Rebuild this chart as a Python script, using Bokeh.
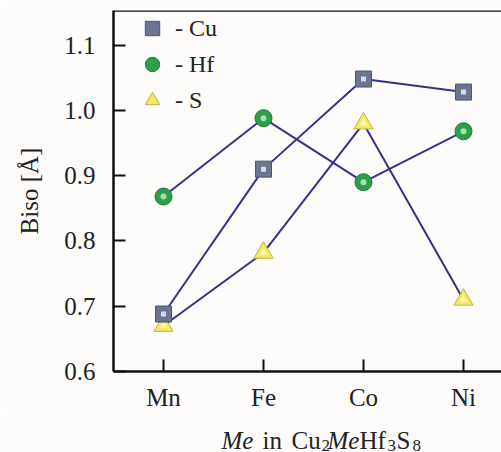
from bokeh.plotting import figure
from bokeh.layouts import column
from bokeh.models import Range1d, FixedTicker, Span, Legend, LegendItem, ColumnDataSource
from bokeh.core.properties import value
from bokeh.embed import file_html
from bokeh.resources import INLINE

metals = ["Mn", "Fe", "Co", "Ni"]
xpos = [1, 2, 3, 4]
cu = [0.688, 0.910, 1.048, 1.028]
hf = [0.868, 0.988, 0.890, 0.968]
s = [0.670, 0.782, 0.980, 0.710]
yticks = [0.6, 0.7, 0.8, 0.9, 1.0, 1.1]

FONT = "'Liberation Serif', 'Times New Roman', 'DejaVu Serif', serif"
LINE = "#3b2f8a"
BG = "#fdfcfb"

p = figure(width=501, height=414, output_backend="svg", toolbar_location=None,
           x_range=Range1d(0.5, 4.38), y_range=Range1d(0.6, 1.153),
           min_border_left=113, min_border_right=0, min_border_top=10, min_border_bottom=43)
p.background_fill_color = BG
p.border_fill_color = BG
p.outline_line_color = None
p.grid.visible = False

for ax in (p.xaxis, p.yaxis):
    ax.axis_line_width = 2.5
    ax.axis_line_color = "#111111"
    ax.major_tick_in = 12
    ax.major_tick_out = 0
    ax.major_tick_line_width = 2
    ax.major_tick_line_color = "#111111"
    ax.minor_tick_line_color = None
    ax.major_label_text_font = FONT
    ax.major_label_text_font_size = "25px"
    ax.major_label_text_color = "#222222"

p.xaxis.ticker = FixedTicker(ticks=xpos)
p.xaxis.major_label_overrides = {x: m for x, m in zip(xpos, metals)}
p.xaxis.major_label_standoff = 12
p.yaxis.ticker = FixedTicker(ticks=yticks)
p.yaxis.major_label_overrides = {v: f"{v:.1f}" for v in yticks}
p.yaxis.major_label_standoff = 18
p.yaxis.axis_label = "Biso [Å]"
p.yaxis.axis_label_text_font = FONT
p.yaxis.axis_label_text_font_size = "25px"
p.yaxis.axis_label_text_font_style = "normal"
p.yaxis.axis_label_text_color = "#222222"
p.yaxis.axis_label_standoff = 18

p.add_layout(Span(location=1.153, dimension="width", line_color="#111111", line_width=2.5))

for ys in (cu, hf, s):
    p.line(xpos, ys, line_color=LINE, line_width=2)

rs_o = p.scatter(xpos, s, marker="triangle", size=19, fill_color="#f3ec62", line_color="#b9b345", line_width=1)
rs_i = p.scatter(xpos, s, marker="triangle", size=8, fill_color="#fbf7b0", line_color=None)
rh_o = p.scatter(xpos, hf, marker="circle", size=17, fill_color="#2f9d4c", line_color="#1f7a38", line_width=1)
rh_i = p.scatter(xpos, hf, marker="circle", size=6, fill_color="#a6e0b0", line_color=None)
rc_o = p.scatter(xpos, cu, marker="square", size=16, fill_color="#6b7592", line_color="#4d5672", line_width=1)
rc_i = p.scatter(xpos, cu, marker="square", size=5, fill_color="#d6dbe8", line_color=None)

legend = Legend(items=[
    LegendItem(label="- Cu", renderers=[rc_o]),
    LegendItem(label="- Hf", renderers=[rh_o]),
    LegendItem(label="- S", renderers=[rs_o]),
], location=(19, 253), glyph_width=40, glyph_height=36, spacing=0, padding=0, margin=0,
    label_standoff=3, label_text_font=FONT, label_text_font_size="24px", label_text_color="#222222",
    border_line_color=None, background_fill_alpha=0)
p.add_layout(legend)

# x-axis title strip (mixed italic / subscript text); its frame is aligned with the plot frame
t = figure(width=501, height=38, output_backend="svg", toolbar_location=None,
           x_axis_type=None, y_axis_type=None, min_border=0,
           x_range=Range1d(0, 388), y_range=Range1d(0, 38))
t.background_fill_color = BG
t.border_fill_color = BG
t.outline_line_color = None
t.grid.visible = False

title_text = ["Me", "in", "Cu", "2", "Me", "Hf", "3", "S", "8"]
title_style = ["italic", "normal", "normal", "normal", "italic", "normal", "normal", "normal", "normal"]
title_sub = [False, False, False, True, False, False, True, False, True]
title_dx = [108, 149, 178, 208, 214, 246, 274, 283, 299]

main = ColumnDataSource(dict(x=[d for d, sb in zip(title_dx, title_sub) if not sb],
                             y=[12 for sb in title_sub if not sb],
                             txt=[tx for tx, sb in zip(title_text, title_sub) if not sb],
                             sty=[st for st, sb in zip(title_style, title_sub) if not sb]))
subs = ColumnDataSource(dict(x=[d for d, sb in zip(title_dx, title_sub) if sb],
                             y=[7 for sb in title_sub if sb],
                             txt=[tx for tx, sb in zip(title_text, title_sub) if sb]))
t.text(x="x", y="y", text="txt", source=main, text_font=value(FONT), text_font_style="sty",
       text_font_size="25px", text_color="#222222", text_baseline="alphabetic", text_align="left")
t.text(x="x", y="y", text="txt", source=subs, text_font=value(FONT),
       text_font_size="17px", text_color="#222222", text_baseline="alphabetic", text_align="left")

layout = column(p, t, spacing=0)
open("out.html", "w").write(file_html(layout, INLINE))
